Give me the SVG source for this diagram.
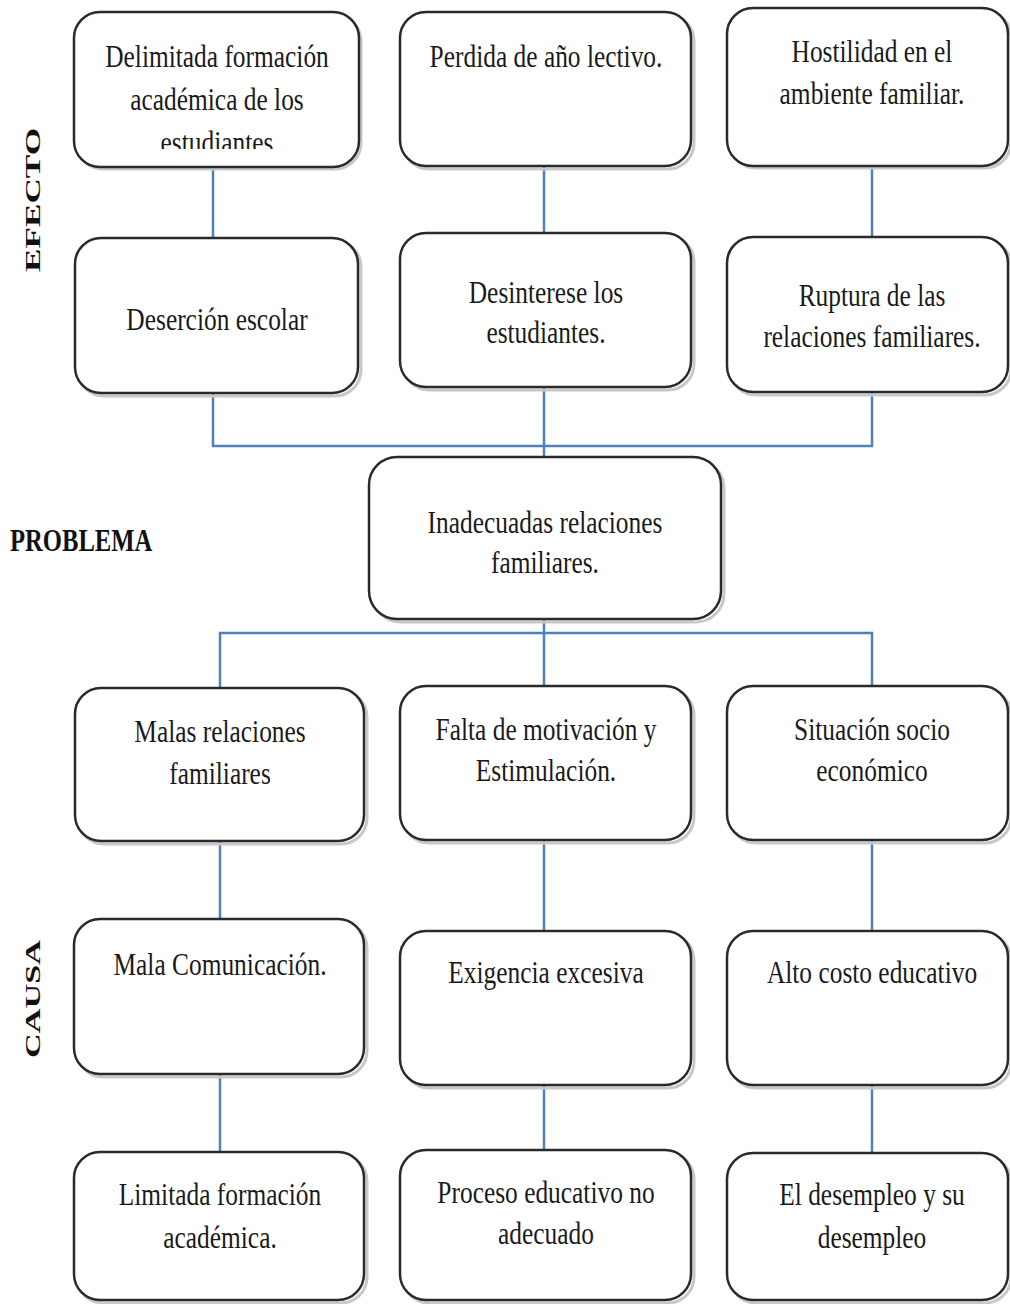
<svg xmlns="http://www.w3.org/2000/svg" width="1010" height="1304" viewBox="0 0 1010 1304">
<style>
.box{fill:#fff;stroke:#2a2a2a;stroke-width:2.5}
.sh{fill:none;stroke:#c8c8c8;stroke-width:3}
.t{font-family:"Liberation Serif","Times New Roman",serif;font-size:31px;fill:#1a1a1a;text-anchor:middle}
.lbl{font-family:"Liberation Serif","Times New Roman",serif;font-weight:bold;fill:#111}
.c{fill:none;stroke:#4f81bd;stroke-width:2.5}
</style>
<defs>
<clipPath id="clip1"><rect x="75" y="12" width="284" height="137"/></clipPath>
</defs>
<rect width="1010" height="1304" fill="#fff"/>

<g id="connectors">
<path class="c" d="M213 167V238M544 166V233M872 166V237"/>
<path class="c" d="M213 393V446H872V392M544 387V458"/>
<path class="c" d="M544 619V687M220 688V633H872V686"/>
<path class="c" d="M220 841V919M544 840V931M872 840V931"/>
<path class="c" d="M220 1074V1152M544 1085V1150M872 1085V1153"/>
</g>

<g id="label-efecto"><text class="lbl" font-size="22" transform="translate(40,272) rotate(-90)" textLength="144" lengthAdjust="spacingAndGlyphs">EFECTO</text></g>
<g id="label-problema"><text class="lbl" font-size="32" transform="translate(10,551) scale(0.77,1)">PROBLEMA</text></g>
<g id="label-causa"><text class="lbl" font-size="22" transform="translate(40,1058) rotate(-90)" textLength="118" lengthAdjust="spacingAndGlyphs">CAUSA</text></g>

<g id="e1">
<rect class="sh" x="77" y="15" width="284" height="154" rx="26"/>
<rect class="box" x="74" y="12" width="285" height="155" rx="26"/>
<g clip-path="url(#clip1)">
<text class="t" transform="translate(217,67) scale(0.82,1)">Delimitada formación</text>
<text class="t" transform="translate(217,110) scale(0.82,1)">académica de los</text>
<text class="t" transform="translate(217,153) scale(0.82,1)">estudiantes</text>
</g>
</g>
<g id="e2">
<rect class="sh" x="403" y="15" width="291" height="154" rx="26"/>
<rect class="box" x="400" y="12" width="291" height="154" rx="26"/>
<text class="t" transform="translate(546,67) scale(0.82,1)">Perdida de año lectivo.</text>
</g>
<g id="e3">
<rect class="sh" x="730" y="11" width="281" height="157" rx="26"/>
<rect class="box" x="727" y="8" width="281" height="158" rx="26"/>
<text class="t" transform="translate(872,62) scale(0.82,1)">Hostilidad en el</text>
<text class="t" transform="translate(872,104) scale(0.82,1)">ambiente familiar.</text>
</g>

<g id="e4">
<rect class="sh" x="78" y="241" width="283" height="155" rx="26"/>
<rect class="box" x="75" y="238" width="283" height="155" rx="26"/>
<text class="t" transform="translate(217,330) scale(0.82,1)">Deserción escolar</text>
</g>
<g id="e5">
<rect class="sh" x="403" y="236" width="291" height="154" rx="26"/>
<rect class="box" x="400" y="233" width="291" height="154" rx="26"/>
<text class="t" transform="translate(546,303) scale(0.82,1)">Desinterese los</text>
<text class="t" transform="translate(546,343) scale(0.82,1)">estudiantes.</text>
</g>
<g id="e6">
<rect class="sh" x="730" y="240" width="281" height="155" rx="26"/>
<rect class="box" x="727" y="237" width="281" height="155" rx="26"/>
<text class="t" transform="translate(872,306) scale(0.82,1)">Ruptura de las</text>
<text class="t" transform="translate(872,347) scale(0.82,1)">relaciones familiares.</text>
</g>

<g id="problema">
<rect class="sh" x="372" y="460" width="352" height="162" rx="28"/>
<rect class="box" x="369" y="457" width="352" height="162" rx="28"/>
<text class="t" transform="translate(545,533) scale(0.82,1)">Inadecuadas relaciones</text>
<text class="t" transform="translate(545,573) scale(0.82,1)">familiares.</text>
</g>

<g id="c1">
<rect class="sh" x="78" y="691" width="289" height="153" rx="26"/>
<rect class="box" x="75" y="688" width="289" height="153" rx="26"/>
<text class="t" transform="translate(220,742) scale(0.82,1)">Malas relaciones</text>
<text class="t" transform="translate(220,784) scale(0.82,1)">familiares</text>
</g>
<g id="c2">
<rect class="sh" x="403" y="689" width="291" height="154" rx="26"/>
<rect class="box" x="400" y="686" width="291" height="154" rx="26"/>
<text class="t" transform="translate(546,740) scale(0.82,1)">Falta de motivación y</text>
<text class="t" transform="translate(546,781) scale(0.82,1)">Estimulación.</text>
</g>
<g id="c3">
<rect class="sh" x="730" y="689" width="281" height="154" rx="26"/>
<rect class="box" x="727" y="686" width="281" height="154" rx="26"/>
<text class="t" transform="translate(872,740) scale(0.82,1)">Situación socio</text>
<text class="t" transform="translate(872,781) scale(0.82,1)">económico</text>
</g>

<g id="c4">
<rect class="sh" x="77" y="922" width="290" height="155" rx="26"/>
<rect class="box" x="74" y="919" width="290" height="155" rx="26"/>
<text class="t" transform="translate(220,975) scale(0.82,1)">Mala Comunicación.</text>
</g>
<g id="c5">
<rect class="sh" x="403" y="934" width="291" height="154" rx="26"/>
<rect class="box" x="400" y="931" width="291" height="154" rx="26"/>
<text class="t" transform="translate(546,983) scale(0.82,1)">Exigencia excesiva</text>
</g>
<g id="c6">
<rect class="sh" x="730" y="934" width="281" height="154" rx="26"/>
<rect class="box" x="727" y="931" width="281" height="154" rx="26"/>
<text class="t" transform="translate(872,983) scale(0.82,1)">Alto costo educativo</text>
</g>

<g id="c7">
<rect class="sh" x="77" y="1155" width="290" height="148" rx="26"/>
<rect class="box" x="74" y="1152" width="290" height="148" rx="26"/>
<text class="t" transform="translate(220,1205) scale(0.82,1)">Limitada formación</text>
<text class="t" transform="translate(220,1248) scale(0.82,1)">académica.</text>
</g>
<g id="c8">
<rect class="sh" x="403" y="1153" width="291" height="150" rx="26"/>
<rect class="box" x="400" y="1150" width="291" height="150" rx="26"/>
<text class="t" transform="translate(546,1203) scale(0.82,1)">Proceso educativo no</text>
<text class="t" transform="translate(546,1244) scale(0.82,1)">adecuado</text>
</g>
<g id="c9">
<rect class="sh" x="730" y="1156" width="281" height="147" rx="26"/>
<rect class="box" x="727" y="1153" width="281" height="147" rx="26"/>
<text class="t" transform="translate(872,1205) scale(0.82,1)">El desempleo y su</text>
<text class="t" transform="translate(872,1248) scale(0.82,1)">desempleo</text>
</g>
</svg>
